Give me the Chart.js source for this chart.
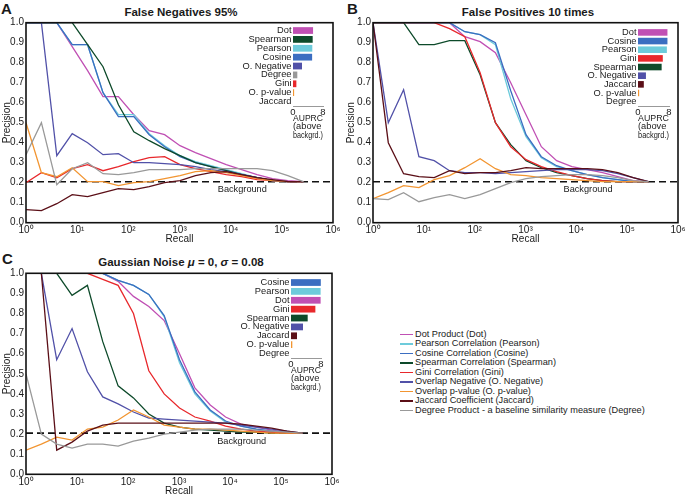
<!DOCTYPE html>
<html>
<head>
<meta charset="utf-8">
<script src="https://cdn.jsdelivr.net/npm/chart.js"></script>
<style>
  html, body { margin: 0; padding: 0; background: #fff; }
  body { width: 688px; height: 495px; position: relative; overflow: hidden;
         font-family: "Liberation Sans", Arial, sans-serif; color: #1a1a1a; }
  canvas { position: absolute; }
  .title { position: absolute; font-weight: bold; font-size: 11.5px; white-space: nowrap;
           transform: translate(-50%, -50%); line-height: 14px; }
  .letter { position: absolute; font-weight: bold; font-size: 15px; line-height: 15px; }
  #legend { position: absolute; left: 400px; top: 330px; font-size: 9.2px; }
  .row { height: 9.46px; line-height: 9.46px; display: flex; align-items: center; white-space: nowrap; }
  .sw { width: 13px; height: 1.5px; margin-right: 2px; }
</style>
</head>
<body>
<div class="letter" style="left:1px;top:1px">A</div>
<div class="letter" style="left:347px;top:1px">B</div>
<div class="letter" style="left:2px;top:251px">C</div>
<div class="title" style="left:181px;top:12px">False Negatives 95%</div>
<div class="title" style="left:528px;top:12px">False Positives 10 times</div>
<div class="title" style="left:181px;top:262px">Gaussian Noise <i>μ</i> = 0, <i>σ</i> = 0.08</div>

<canvas id="chartA" width="344" height="245" style="left:0;top:0"></canvas>
<canvas id="chartB" width="344" height="245" style="left:344px;top:0"></canvas>
<canvas id="chartC" width="344" height="252" style="left:0;top:245px"></canvas>
<canvas id="insetA"></canvas>
<canvas id="insetB"></canvas>
<canvas id="insetC"></canvas>
<div id="legend"></div>

<script>
// Точки по оси Recall (степени двойки)
const recall = [1, 2, 4, 8, 16, 32, 64, 128, 256, 512, 1024, 2048, 4096, 8192, 16384, 32768, 65536, 131072, 262144];
const xTickValues = [1, 10, 100, 1000, 10000, 100000, 1000000];
const xTickLabels = ['10⁰', '10¹', '10²', '10³', '10⁴', '10⁵', '10⁶'];
const yTickValues = [0, 0.1, 0.2, 0.3, 0.4, 0.5, 0.6, 0.7, 0.8, 0.9, 1.0];
const background = 0.205;

// Методы, подписи легенды и цвета
const methods = ['Dot', 'Pearson', 'Cosine', 'Spearman', 'Gini', 'O. Negative', 'O. p-value', 'Jaccard', 'Degree'];
const legendNames = ['Dot Product (Dot)', 'Pearson Correlation (Pearson)', 'Cosine Correlation (Cosine)',
  'Spearman Correlation (Spearman)', 'Gini Correlation (Gini)', 'Overlap Negative (O. Negative)',
  'Overlap p-value (O. p-value)', 'Jaccard Coefficient (Jaccard)',
  'Degree Product - a baseline similarity measure (Degree)'];
const methodColors = ['#c050b4', '#6dcbdb', '#3b6ec1', '#0d4a2a', '#e8282c', '#5151a8', '#f29531', '#5b0f17', '#999999'];
const drawOrder = ['Degree', 'Jaccard', 'O. p-value', 'O. Negative', 'Gini', 'Spearman', 'Cosine', 'Pearson', 'Dot'];

// A: False Negatives 95%
const fnDot      = [1.0, 1.0, 1.0, 0.88, 0.76, 0.63, 0.63, 0.54, 0.46, 0.44, 0.385, 0.35, 0.32, 0.29, 0.265, 0.24, 0.22, 0.21, 0.205];
const fnPearson  = [1.0, 1.0, 1.0, 0.89, 0.89, 0.65, 0.54, 0.54, 0.445, 0.385, 0.335, 0.305, 0.285, 0.265, 0.245, 0.225, 0.21, 0.205, 0.205];
const fnCosine   = [1.0, 1.0, 1.0, 0.89, 0.89, 0.65, 0.53, 0.53, 0.44, 0.38, 0.33, 0.30, 0.28, 0.26, 0.24, 0.225, 0.21, 0.205, 0.205];
const fnSpearman = [1.0, 1.0, 1.0, 1.0, 0.89, 0.78, 0.59, 0.455, 0.41, 0.37, 0.335, 0.30, 0.28, 0.26, 0.24, 0.225, 0.21, 0.205, 0.205];
const fnGini     = [0.20, 0.25, 0.225, 0.27, 0.29, 0.26, 0.28, 0.305, 0.325, 0.33, 0.29, 0.27, 0.255, 0.24, 0.23, 0.215, 0.21, 0.205, 0.205];
const fnNegative = [1.0, 1.0, 0.335, 0.445, 0.40, 0.34, 0.345, 0.30, 0.30, 0.295, 0.29, 0.28, 0.265, 0.255, 0.24, 0.225, 0.21, 0.205, 0.205];
const fnPvalue   = [0.50, 0.25, 0.23, 0.275, 0.205, 0.205, 0.185, 0.20, 0.205, 0.22, 0.235, 0.255, 0.26, 0.25, 0.235, 0.22, 0.21, 0.205, 0.205];
const fnJaccard  = [0.065, 0.06, 0.095, 0.14, 0.13, 0.15, 0.17, 0.165, 0.18, 0.20, 0.21, 0.235, 0.25, 0.255, 0.24, 0.225, 0.215, 0.205, 0.205];
const fnDegree   = [0.34, 0.50, 0.19, 0.27, 0.30, 0.245, 0.24, 0.25, 0.265, 0.265, 0.265, 0.27, 0.27, 0.27, 0.27, 0.27, 0.26, 0.235, 0.205];

// B: False Positives 10 times
const fpDot      = [1.0, 1.0, 1.0, 1.0, 1.0, 1.0, 0.93, 0.905, 0.85, 0.70, 0.54, 0.38, 0.31, 0.28, 0.265, 0.25, 0.23, 0.21, 0.205];
const fpPearson  = [1.0, 1.0, 1.0, 1.0, 1.0, 1.0, 0.955, 0.94, 0.89, 0.62, 0.43, 0.325, 0.28, 0.26, 0.24, 0.225, 0.215, 0.205, 0.205];
const fpCosine   = [1.0, 1.0, 1.0, 1.0, 1.0, 1.0, 0.955, 0.94, 0.90, 0.66, 0.44, 0.33, 0.285, 0.26, 0.24, 0.225, 0.215, 0.205, 0.205];
const fpSpearman = [1.0, 1.0, 1.0, 0.89, 0.89, 0.91, 0.91, 0.74, 0.50, 0.39, 0.31, 0.275, 0.25, 0.235, 0.22, 0.21, 0.205, 0.205, 0.205];
const fpGini     = [1.0, 1.0, 1.0, 1.0, 1.0, 0.97, 0.93, 0.75, 0.50, 0.38, 0.315, 0.28, 0.255, 0.235, 0.22, 0.21, 0.205, 0.205, 0.205];
const fpNegative = [1.0, 0.50, 0.665, 0.33, 0.31, 0.26, 0.25, 0.25, 0.245, 0.25, 0.255, 0.26, 0.265, 0.265, 0.265, 0.26, 0.245, 0.225, 0.205];
const fpPvalue   = [0.12, 0.15, 0.185, 0.175, 0.215, 0.235, 0.275, 0.32, 0.27, 0.24, 0.235, 0.225, 0.22, 0.215, 0.21, 0.205, 0.205, 0.205, 0.205];
const fpJaccard  = [1.0, 0.40, 0.245, 0.23, 0.225, 0.26, 0.245, 0.25, 0.25, 0.26, 0.275, 0.27, 0.27, 0.27, 0.27, 0.265, 0.25, 0.225, 0.205];
const fpDegree   = [0.12, 0.115, 0.15, 0.105, 0.125, 0.14, 0.12, 0.14, 0.17, 0.20, 0.22, 0.23, 0.235, 0.24, 0.24, 0.235, 0.225, 0.21, 0.205];

// C: Gaussian Noise
const gnDot      = [1.0, 1.0, 1.0, 1.0, 1.0, 1.0, 0.96, 0.885, 0.835, 0.765, 0.60, 0.43, 0.345, 0.285, 0.25, 0.235, 0.22, 0.21, 0.205];
const gnPearson  = [1.0, 1.0, 1.0, 1.0, 1.0, 1.0, 0.965, 0.94, 0.895, 0.785, 0.555, 0.40, 0.315, 0.26, 0.24, 0.225, 0.215, 0.21, 0.205];
const gnCosine   = [1.0, 1.0, 1.0, 1.0, 1.0, 1.0, 0.965, 0.94, 0.895, 0.79, 0.57, 0.41, 0.32, 0.265, 0.24, 0.225, 0.215, 0.21, 0.205];
const gnSpearman = [1.0, 1.0, 1.0, 0.89, 0.94, 0.66, 0.44, 0.38, 0.30, 0.255, 0.235, 0.225, 0.22, 0.215, 0.21, 0.21, 0.205, 0.205, 0.205];
const gnGini     = [1.0, 1.0, 1.0, 1.0, 1.0, 0.97, 0.94, 0.80, 0.515, 0.40, 0.33, 0.285, 0.265, 0.24, 0.225, 0.215, 0.21, 0.205, 0.205];
const gnNegative = [1.0, 1.0, 0.57, 0.725, 0.51, 0.385, 0.35, 0.31, 0.28, 0.275, 0.27, 0.265, 0.26, 0.255, 0.245, 0.235, 0.225, 0.215, 0.205];
const gnPvalue   = [0.12, 0.15, 0.185, 0.17, 0.225, 0.235, 0.27, 0.32, 0.285, 0.245, 0.235, 0.225, 0.225, 0.22, 0.215, 0.21, 0.205, 0.205, 0.205];
const gnJaccard  = [1.0, 1.0, 0.12, 0.16, 0.215, 0.245, 0.255, 0.255, 0.255, 0.255, 0.255, 0.255, 0.255, 0.255, 0.25, 0.24, 0.23, 0.215, 0.205];
const gnDegree   = [0.50, 0.20, 0.15, 0.13, 0.15, 0.15, 0.14, 0.165, 0.18, 0.20, 0.21, 0.22, 0.225, 0.225, 0.225, 0.22, 0.215, 0.21, 0.205];

// Врезки AUPRC (выше фона)
const auprcTicks = [0, 8];
const insetALabels = ['Dot', 'Spearman', 'Pearson', 'Cosine', 'O. Negative', 'Degree', 'Gini', 'O. p-value', 'Jaccard'];
const insetAValues = [5.35, 5.25, 5.15, 5.1, 2.4, 1.15, 0.9, 0.3, 0];
const insetBLabels = ['Dot', 'Cosine', 'Pearson', 'Gini', 'Spearman', 'O. Negative', 'Jaccard', 'O. p-value', 'Degree'];
const insetBValues = [7.6, 7.6, 7.45, 6.4, 6.1, 2.05, 1.5, 0.3, 0];
const insetCLabels = ['Cosine', 'Pearson', 'Dot', 'Gini', 'Spearman', 'O. Negative', 'Jaccard', 'O. p-value', 'Degree'];
const insetCValues = [7.95, 7.9, 7.9, 6.5, 4.45, 3.2, 1.6, 0.35, 0];

const FONT = '"Liberation Sans", Arial, sans-serif';
Chart.defaults.font.family = FONT;
Chart.defaults.color = '#1a1a1a';

function colorOf(name) {
    return methodColors[methods.indexOf(name)];
}

// Рамка вокруг области графика и подпись фона
const framePlugin = {
    id: 'frame',
    afterDraw(chart) {
        const { ctx, chartArea: a, scales } = chart;
        ctx.save();
        ctx.strokeStyle = '#111';
        ctx.lineWidth = 1.6;
        ctx.strokeRect(a.left, a.top, a.right - a.left, a.bottom - a.top);
        ctx.fillStyle = '#1a1a1a';
        ctx.font = '9.2px ' + FONT;
        ctx.textAlign = 'left';
        ctx.textBaseline = 'middle';
        ctx.fillText('Background', scales.x.getPixelForValue(5600), scales.y.getPixelForValue(background) + 8);
        ctx.restore();
    }
};

function buildPanel(id, series, yWidth, xHeight, padTop, padRight) {
    const datasets = drawOrder.map(name => ({
        label: name,
        data: recall.map((r, i) => ({ x: r, y: series[name][i] })),
        borderColor: colorOf(name),
        borderWidth: 1.3,
        pointRadius: 0,
        tension: 0
    }));
    datasets.push({
        label: 'Background',
        data: [{ x: xTickValues[0], y: background }, { x: xTickValues[xTickValues.length - 1], y: background }],
        borderColor: '#111',
        borderWidth: 1.6,
        borderDash: [7, 4],
        pointRadius: 0
    });

    new Chart(document.getElementById(id), {
        type: 'line',
        data: { datasets },
        options: {
            responsive: false,
            animation: false,
            layout: { padding: { top: padTop, right: padRight, left: 0, bottom: 0 } },
            plugins: { legend: { display: false }, tooltip: { enabled: false } },
            scales: {
                x: {
                    type: 'logarithmic',
                    min: xTickValues[0],
                    max: xTickValues[xTickValues.length - 1],
                    afterBuildTicks: s => { s.ticks = xTickValues.map(v => ({ value: v })); },
                    afterFit: s => { s.height = xHeight; },
                    grid: { display: false, drawTicks: false },
                    border: { display: false },
                    ticks: {
                        autoSkip: false, maxRotation: 0, padding: 2,
                        font: { size: 10 },
                        callback: (v, i) => xTickLabels[i]
                    },
                    title: { display: true, text: 'Recall', font: { size: 10 }, padding: 0 }
                },
                y: {
                    min: 0,
                    max: 1,
                    afterBuildTicks: s => { s.ticks = yTickValues.map(v => ({ value: v })); },
                    afterFit: s => { s.width = yWidth; },
                    grid: { display: false, drawTicks: false },
                    border: { display: false },
                    ticks: { autoSkip: false, padding: 2, font: { size: 10 }, callback: v => v.toFixed(1) },
                    title: { display: true, text: 'Precision', font: { size: 10 }, padding: { top: 1, bottom: 0 } }
                }
            }
        },
        plugins: [framePlugin]
    });
}

function pick(dot, pearson, cosine, spearman, gini, neg, pval, jac, deg) {
    return { 'Dot': dot, 'Pearson': pearson, 'Cosine': cosine, 'Spearman': spearman, 'Gini': gini,
             'O. Negative': neg, 'O. p-value': pval, 'Jaccard': jac, 'Degree': deg };
}

buildPanel('chartA', pick(fnDot, fnPearson, fnCosine, fnSpearman, fnGini, fnNegative, fnPvalue, fnJaccard, fnDegree), 26, 22.3, 22.7, 11);
buildPanel('chartB', pick(fpDot, fpPearson, fpCosine, fpSpearman, fpGini, fpNegative, fpPvalue, fpJaccard, fpDegree), 29, 22.3, 22.7, 10);
buildPanel('chartC', pick(gnDot, gnPearson, gnCosine, gnSpearman, gnGini, gnNegative, gnPvalue, gnJaccard, gnDegree), 26, 22.7, 28.3, 12);

// Горизонтальные столбики AUPRC
function buildInset(id, labels, values, barStart, barEnd, areaTop, band) {
    const yWidth = 78, padTop = 4, padRight = 22, xHeight = 34;
    const canvas = document.getElementById(id);
    canvas.width = yWidth + (barEnd - barStart) + padRight;
    canvas.height = Math.round(padTop + band * labels.length + xHeight);
    canvas.style.left = (barStart - yWidth) + 'px';
    canvas.style.top = (areaTop - padTop) + 'px';

    new Chart(canvas, {
        type: 'bar',
        data: {
            labels: labels,
            datasets: [{
                data: values,
                backgroundColor: labels.map(colorOf),
                borderWidth: 0,
                barPercentage: 0.8,
                categoryPercentage: 0.95
            }]
        },
        options: {
            indexAxis: 'y',
            responsive: false,
            animation: false,
            layout: { padding: { top: padTop, right: padRight, left: 0, bottom: 0 } },
            plugins: { legend: { display: false }, tooltip: { enabled: false } },
            scales: {
                x: {
                    min: auprcTicks[0],
                    max: auprcTicks[1],
                    afterBuildTicks: s => { s.ticks = auprcTicks.map(v => ({ value: v })); },
                    afterFit: s => { s.height = xHeight; },
                    grid: { display: false, drawTicks: false },
                    border: { display: true, color: '#999', width: 1 },
                    ticks: { autoSkip: false, padding: 1, font: { size: 9.5 } },
                    title: {
                        display: true, align: 'start', padding: 0,
                        text: ['AUPRC', '(above', 'backgrd.)'],
                        font: { size: 9.3, lineHeight: '8.8px' }
                    }
                },
                y: {
                    afterFit: s => { s.width = yWidth; },
                    grid: { display: false, drawTicks: false },
                    border: { display: false },
                    ticks: { autoSkip: false, padding: 1.5, font: { size: 9.3 } }
                }
            }
        }
    });
}

buildInset('insetA', insetALabels, insetAValues, 293, 323, 23.4, 9.2);
buildInset('insetB', insetBLabels, insetBValues, 638, 669, 24.5, 9.0);
buildInset('insetC', insetCLabels, insetCValues, 291, 321, 275.4, 9.17);

// Общая легенда
const legend = document.getElementById('legend');
methods.forEach((name, i) => {
    const row = document.createElement('div');
    row.className = 'row';
    row.innerHTML = `<span class="sw" style="background:${methodColors[i]}"></span>${legendNames[i]}`;
    legend.appendChild(row);
});
</script>
</body>
</html>
